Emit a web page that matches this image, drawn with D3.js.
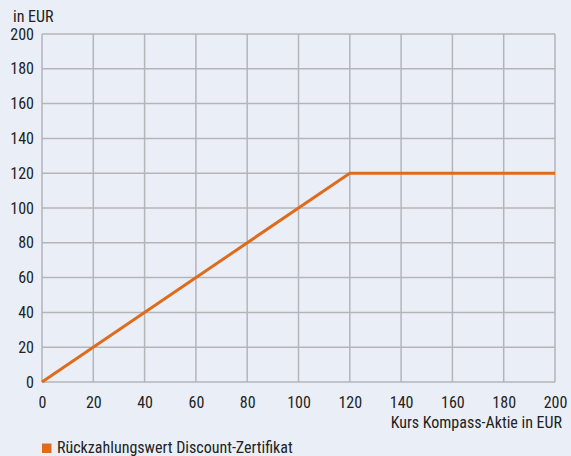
<!DOCTYPE html>
<html>
<head>
<meta charset="utf-8">
<script src="https://cdn.jsdelivr.net/npm/d3@7"></script>
<style>
  html, body { margin: 0; padding: 0; background: #eaeff7; }
  svg text { font-family: "Liberation Sans Narrow", "Arial Narrow", "Roboto Condensed", sans-serif; fill: #222; }
</style>
</head>
<body>
<svg id="chart" width="571" height="456"></svg>
<script>
// Redemption value of a discount certificate (cap 120 EUR) vs. share price
const kurs = [0, 120, 200];
const rueckzahlung = [0, 120, 120];
const xTicks = [0, 20, 40, 60, 80, 100, 120, 140, 160, 180, 200];
const yTicks = [0, 20, 40, 60, 80, 100, 120, 140, 160, 180, 200];
const seriesName = "Rückzahlungswert Discount-Zertifikat";

const svg = d3.select("#chart");
const W = 571, H = 456;
const m = { left: 42, right: 555, top: 34, bottom: 382 };
const fs = "16px";

svg.append("rect").attr("width", W).attr("height", H).attr("fill", "#eaeff7");

const x = d3.scaleLinear().domain([0, 200]).range([m.left, m.right]);
const y = d3.scaleLinear().domain([0, 200]).range([m.bottom, m.top]);

// grid
const grid = svg.append("g").attr("stroke", "#b3b5b9").attr("stroke-width", 1.5);
grid.selectAll(".vx").data(xTicks).join("line")
  .attr("x1", d => x(d)).attr("x2", d => x(d))
  .attr("y1", m.top).attr("y2", m.bottom);
grid.selectAll(".hy").data(yTicks).join("line")
  .attr("x1", m.left).attr("x2", m.right)
  .attr("y1", d => y(d)).attr("y2", d => y(d));

// axes (labels only)
const xAxis = svg.append("g").attr("transform", `translate(0,${m.bottom})`)
  .call(d3.axisBottom(x).tickValues(xTicks).tickSize(0).tickPadding(15));
xAxis.select(".domain").remove();
xAxis.selectAll("text").style("font-size", fs).attr("fill", "#222");

const yAxis = svg.append("g").attr("transform", `translate(${m.left},0)`)
  .call(d3.axisLeft(y).tickValues(yTicks).tickSize(0).tickPadding(8));
yAxis.select(".domain").remove();
yAxis.selectAll("text").style("font-size", fs).attr("fill", "#222");

// titles
svg.append("text").attr("x", 13).attr("y", 22).style("font-size", fs).text("in EUR");
svg.append("text").attr("x", 562).attr("y", 428).attr("text-anchor", "end")
  .style("font-size", fs).text("Kurs Kompass-Aktie in EUR");

// line
const pts = kurs.map((k, i) => [k, rueckzahlung[i]]);
svg.append("path").datum(pts)
  .attr("fill", "none").attr("stroke", "#df6c1d").attr("stroke-width", 3)
  .attr("d", d3.line().x(d => x(d[0])).y(d => y(d[1])));

// legend
svg.append("rect").attr("x", 42).attr("y", 443.5).attr("width", 9.5).attr("height", 9.5).attr("fill", "#df6c1d");
svg.append("text").attr("x", 57).attr("y", 453).style("font-size", fs).text(seriesName);
</script>
</body>
</html>
